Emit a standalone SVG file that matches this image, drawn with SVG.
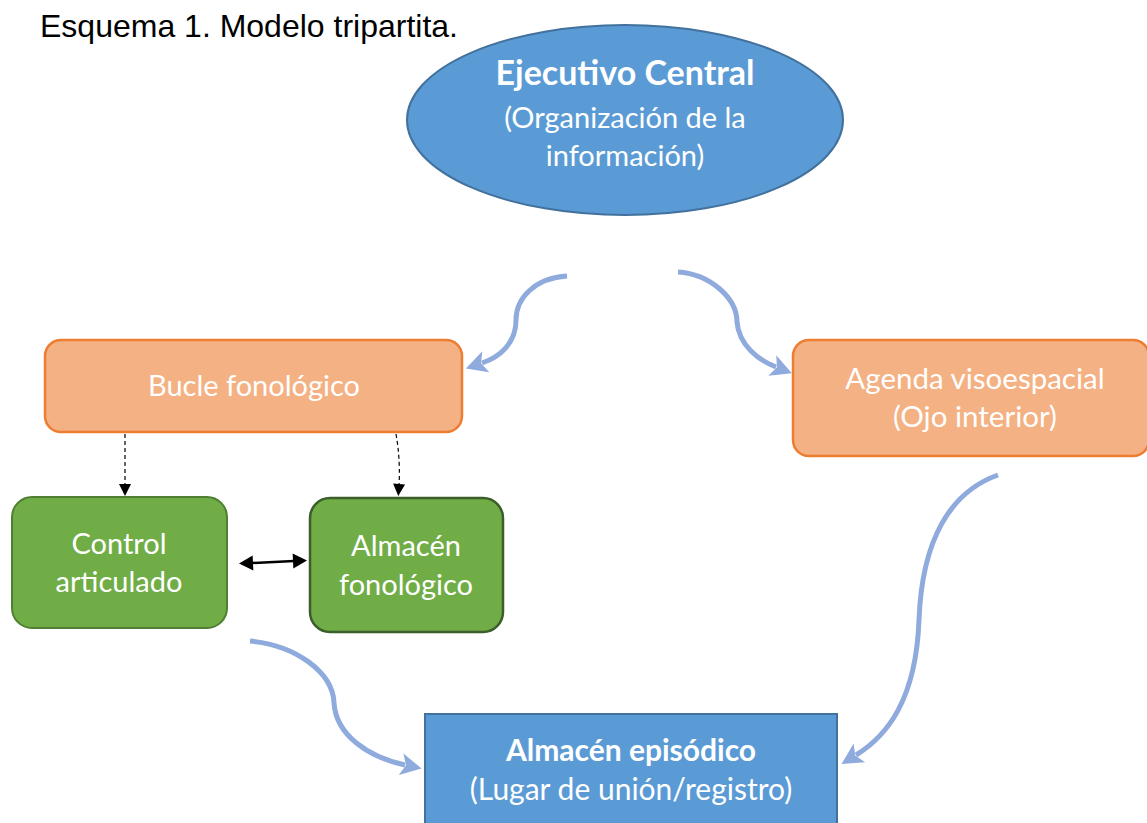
<svg xmlns="http://www.w3.org/2000/svg" width="1147" height="823" viewBox="0 0 1147 823">
<style>
.t{font-family:Lato,"Open Sans",sans-serif;fill:#fff;text-anchor:middle}
.r{font-size:29px}
.b{font-size:34px;font-weight:bold}
.blue{fill:none;stroke:#8FAADC;stroke-width:5}
.dash{fill:none;stroke:#000;stroke-width:1.2;stroke-dasharray:4 3}
</style>
<defs>
<marker id="ba" markerUnits="userSpaceOnUse" markerWidth="22" markerHeight="22" refX="4" refY="11" orient="auto" overflow="visible">
<path d="M0,0 L21,11 L0,22 L5,11 z" fill="#8FAADC"/>
</marker>
<marker id="ka" markerUnits="userSpaceOnUse" markerWidth="13" markerHeight="13" refX="1" refY="6" orient="auto" overflow="visible">
<path d="M0,0 L12,6 L0,12 z" fill="#000"/>
</marker>
<marker id="kd" markerUnits="userSpaceOnUse" markerWidth="16" markerHeight="16" refX="1" refY="7.5" orient="auto-start-reverse" overflow="visible">
<path d="M0,0 L14,7.5 L0,15 z" fill="#000"/>
</marker>
</defs>
<text x="40" y="37" font-family="Liberation Sans,Arial,sans-serif" font-size="32" fill="#000">Esquema 1. Modelo tripartita.</text>
<g id="ejecutivo">
<ellipse cx="625" cy="120" rx="218" ry="95" fill="#5B9BD5" stroke="#41719C" stroke-width="2"/>
<text class="t b" x="625" y="85">Ejecutivo Central</text>
<text class="t r" x="625" y="128">(Organización de la</text>
<text class="t r" x="625" y="166">información)</text>
</g>
<g id="bucle">
<rect x="45" y="340" width="417" height="92" rx="16" fill="#F4B183" stroke="#ED7D31" stroke-width="2.5"/>
<text class="t r" x="254" y="396">Bucle fonológico</text>
</g>
<g id="agenda">
<rect x="793" y="340" width="356" height="116" rx="16" fill="#F4B183" stroke="#ED7D31" stroke-width="2.5"/>
<text class="t r" x="975" y="389" style="font-size:29.5px">Agenda visoespacial</text>
<text class="t r" x="975" y="427" style="font-size:29.5px">(Ojo interior)</text>
</g>
<g id="control">
<rect x="12" y="497" width="215" height="131" rx="20" fill="#70AD47" stroke="#507E32" stroke-width="2"/>
<text class="t r" x="119" y="554">Control</text>
<text class="t r" x="119" y="592">articulado</text>
</g>
<g id="almacenfon">
<rect x="310" y="498" width="193" height="134" rx="20" fill="#70AD47" stroke="#3B5E2A" stroke-width="2.5"/>
<text class="t r" x="406" y="556">Almacén</text>
<text class="t r" x="406" y="595">fonológico</text>
</g>
<g id="episodico">
<rect x="425" y="714" width="412" height="115" fill="#5B9BD5" stroke="#41719C" stroke-width="2"/>
<text class="t b" x="631" y="761" style="font-size:30px">Almacén episódico</text>
<text class="t r" x="631" y="800" style="font-size:30px">(Lugar de unión/registro)</text>
</g>
<g id="connectors">
<path class="blue" marker-end="url(#ba)" d="M567,276 C535,278 516,298 516,320 C516,343 500,357 482,363"/>
<path class="blue" marker-end="url(#ba)" d="M678,272 C710,274 737,298 737,322 C739,345 758,360 776,367"/>
<path class="blue" marker-end="url(#ba)" d="M250,641 C295,645 333,672 334,703 C336,735 368,757 405,765"/>
<path class="blue" marker-end="url(#ba)" d="M998,475 C950,492 922,540 919,620 C916,700 887,736 856,755"/>
<path class="dash" marker-end="url(#ka)" d="M125,434 L125,485"/>
<path class="dash" marker-end="url(#ka)" d="M396,434 C399,450 400,470 399,485"/>
<path fill="none" stroke="#000" stroke-width="2.5" marker-start="url(#kd)" marker-end="url(#kd)" d="M252,563 L294,561"/>
</g>
</svg>
